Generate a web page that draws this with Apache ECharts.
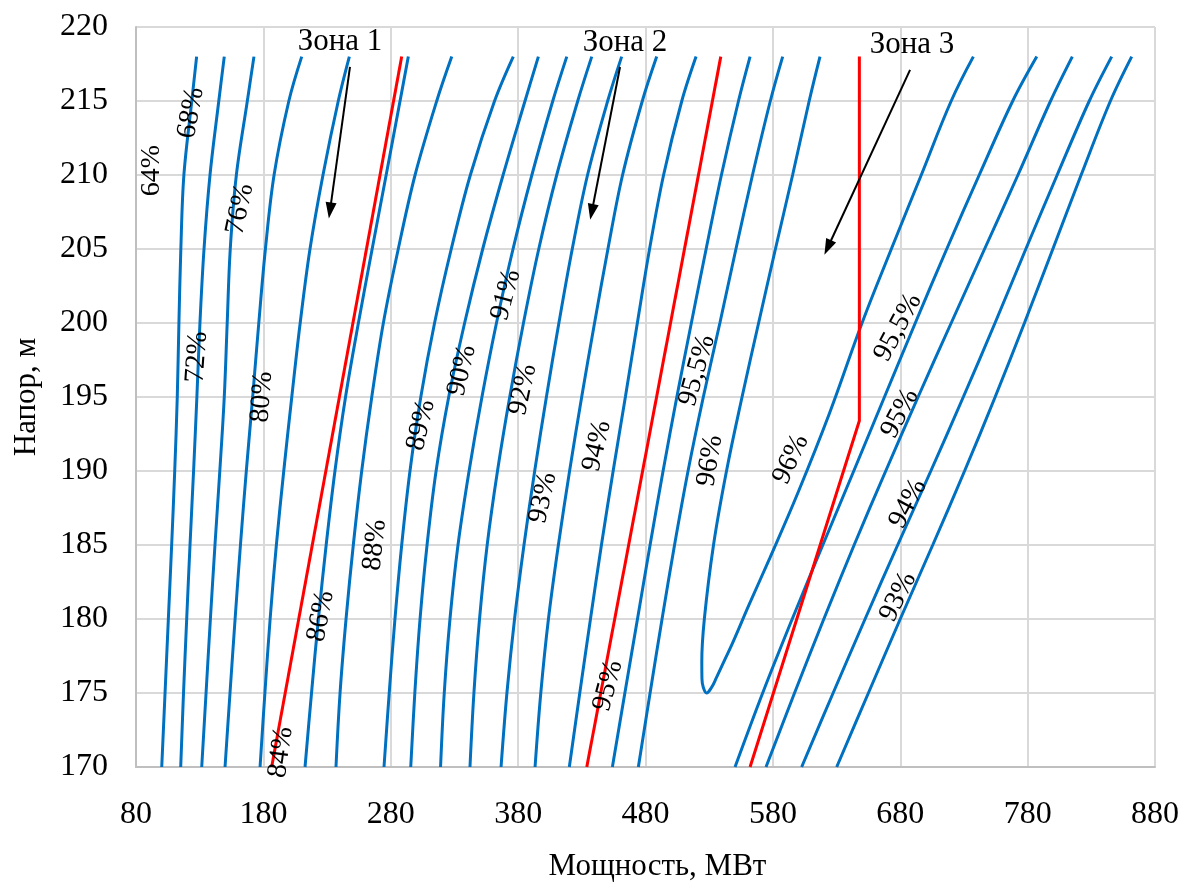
<!DOCTYPE html>
<html>
<head>
<meta charset="utf-8">
<script src="https://cdn.jsdelivr.net/npm/echarts@6/dist/echarts.min.js"></script>
<style>
  html, body { margin: 0; padding: 0; background: #ffffff; }
  #chart { width: 1181px; height: 884px; }
</style>
</head>
<body>
<div id="chart"></div>
<script>
// Heads (m) at which every efficiency isoline is sampled
const heads = [170, 175, 180, 185, 190, 195, 200, 205, 210, 215, 218];

// Power (MW) of each isoline at the heads above — left family
const iso64  = [100.2, 102.8, 105.4, 108.0, 110.4, 112.4, 113.7, 115.2, 117.6, 123.8, 127.6];
const iso68  = [115.1, 117.3, 119.8, 122.4, 125.2, 127.8, 130.2, 133.4, 138.1, 145.0, 149.3];
const iso72  = [131.6, 135.0, 138.4, 142.0, 145.8, 149.3, 151.6, 154.0, 158.8, 167.4, 172.6];
const iso76  = [149.9, 153.8, 157.8, 162.0, 166.6, 171.6, 176.4, 181.6, 188.4, 200.0, 210.1];
const iso80  = [177.4, 181.2, 185.3, 190.2, 196.0, 202.3, 208.9, 216.6, 226.8, 238.8, 247.5];
const iso84  = [212.7, 217.8, 223.2, 229.3, 236.2, 244.5, 254.6, 265.4, 276.4, 287.3, 293.8];
const iso86  = [237.0, 240.2, 244.9, 250.6, 257.2, 265.1, 274.2, 285.9, 299.1, 316.1, 327.9];
const iso88  = [274.7, 278.8, 283.3, 288.6, 295.1, 303.6, 314.4, 327.5, 342.5, 361.5, 376.2];
const iso89  = [295.7, 298.9, 303.0, 308.5, 315.6, 325.5, 338.0, 352.2, 368.2, 385.4, 395.9];
const iso90  = [319.1, 322.0, 326.5, 332.8, 341.5, 351.6, 363.0, 376.0, 390.8, 407.2, 418.2];
const iso91  = [342.2, 345.3, 349.7, 355.7, 363.8, 373.4, 384.2, 396.2, 410.3, 426.8, 437.8];
const iso92  = [366.6, 371.2, 377.2, 384.6, 393.0, 402.2, 412.0, 422.5, 434.5, 450.3, 461.3];
const iso93  = [393.3, 397.8, 403.8, 411.6, 420.4, 429.9, 440.0, 450.5, 462.0, 477.5, 488.8];
const iso94  = [420.2, 428.4, 436.8, 445.4, 454.6, 464.2, 473.6, 483.2, 494.2, 508.5, 519.7];
const iso95  = [454.0, 463.8, 473.7, 483.6, 493.8, 504.6, 516.0, 527.6, 539.6, 553.0, 562.1];
const iso955 = [474.4, 483.6, 493.0, 502.8, 513.4, 525.4, 538.4, 551.0, 564.0, 578.0, 587.7];

// Right family (overload side)
const iso955r = [550.3, 572.0, 595.2, 619.2, 643.5, 667.6, 691.8, 716.5, 742.0, 768.3, 787.2];
const iso95r  = [574.6, 597.0, 620.0, 643.8, 668.6, 694.0, 720.0, 746.2, 772.4, 798.0, 815.1];
const iso94r  = [602.6, 627.3, 652.4, 678.0, 704.0, 729.5, 754.4, 778.6, 803.2, 828.4, 846.0];
const iso93r  = [630.1, 655.0, 680.0, 705.5, 730.5, 754.5, 777.5, 799.8, 822.0, 845.0, 861.7];

// 96 % closed contour (down the left branch, round the bottom, up the right branch)
const loop96P = [617.0, 608.5, 595.5, 582.0, 568.8, 555.8, 543.6, 533.4, 526.2, 524.2, 524.3, 525.3, 528.0,
                 532.0, 535.5, 542.0, 548.5, 561.5, 577.5, 600.0, 624.0, 650.0, 673.0, 696.5, 720.0, 737.4];
const loop96H = [218, 215, 210, 205, 200, 195, 190, 185, 180, 177.1, 176.0, 175.4, 175.0,
                 175.4, 176.0, 177.2, 178.4, 181.0, 184.1, 188.6, 193.8, 200, 205, 210, 215, 218];

// Zone boundaries (red)
const border1 = [[186.5, 170], [288.6, 218]];
const border2 = [[433.9, 170], [539.1, 218]];
const border3 = [[562.1, 170], [647.9, 193.4], [647.9, 218]];

// Efficiency captions: text, power, head, text angle
const effLabels = [
  ['64%', 92.6, 210.3, 90], ['68%', 123.2, 214.2, 80], ['72%', 127.9, 197.7, 86],
  ['76%', 161.7, 207.7, 78], ['80%', 178.9, 195.0, 86], ['84%', 193.8, 171.0, 82],
  ['86%', 225.2, 180.2, 79], ['88%', 267.6, 185.0, 84], ['89%', 303.8, 193.1, 77],
  ['90%', 335.9, 196.8, 77], ['91%', 370.5, 201.9, 75], ['92%', 383.8, 195.5, 78],
  ['93%', 399.5, 188.2, 78], ['94%', 441.9, 191.7, 77], ['95%', 450.6, 175.5, 75],
  ['95,5%', 520.5, 196.8, 74], ['96%', 530.7, 190.7, 81], ['96%', 594.2, 190.8, 65],
  ['95,5%', 678.3, 199.7, 62], ['95%', 679.8, 193.9, 62], ['94%', 686.1, 187.8, 62],
  ['93%', 678.3, 181.5, 64]
];

// Zone captions and their pointer arrows (from -> to)
const zoneLabels = [['Зона 1', 240.2, 219.0], ['Зона 2', 463.9, 218.9], ['Зона 3', 689.2, 218.8]];
const zoneArrows = [
  [248.0, 217.3, 232.3, 207.6],
  [460.0, 217.3, 437.8, 207.5],
  [687.7, 217.1, 623.1, 205.1]
];

// Axis ticks
const xTicks = [80, 180, 280, 380, 480, 580, 680, 780, 880];
const yTicks = [170, 175, 180, 185, 190, 195, 200, 205, 210, 215, 220];

const FONT = "'Liberation Serif', 'Times New Roman', serif";
const BLUE = '#0070c0';
const RED = '#ff0000';

function zip(xs, ys) { return xs.map((x, i) => [x, ys[i]]); }

const blueCurves = [iso64, iso68, iso72, iso76, iso80, iso84, iso86, iso88, iso89, iso90, iso91,
  iso92, iso93, iso94, iso95, iso955, iso955r, iso95r, iso94r, iso93r];

const series = [];
blueCurves.forEach(xs => {
  series.push({
    type: 'line', data: zip(xs, heads), smooth: 0.35, symbol: 'none', silent: true,
    lineStyle: { color: BLUE, width: 3 }, z: 2
  });
});
series.push({
  type: 'line', data: zip(loop96P, loop96H), smooth: 0.4, symbol: 'none', silent: true,
  lineStyle: { color: BLUE, width: 3 }, z: 2
});
[border1, border2, border3].forEach(b => {
  series.push({
    type: 'line', data: b, symbol: 'none', silent: true,
    lineStyle: { color: RED, width: 3 }, z: 3
  });
});

// Captions drawn as invisible scatter points carrying labels
const captionLabel = {
  show: true, position: 'inside', align: 'center', verticalAlign: 'middle',
  color: '#000', fontFamily: FONT, textBorderWidth: 0, opacity: 1
};
series.push({
  type: 'scatter', silent: true, symbolSize: 1, itemStyle: { color: 'transparent' }, z: 5,
  data: effLabels.map(l => ({
    value: [l[1], l[2]],
    label: { show: true, formatter: l[0], rotate: l[3] }
  })),
  label: Object.assign({}, captionLabel, { fontSize: 28 })
});
series.push({
  type: 'scatter', silent: true, symbolSize: 1, itemStyle: { color: 'transparent' }, z: 5,
  data: zoneLabels.map(l => ({ value: [l[1], l[2]], label: { show: true, formatter: l[0] } })),
  label: Object.assign({}, captionLabel, { fontSize: 31 })
});
series.push({
  type: 'line', data: [], silent: true, z: 6,
  markLine: {
    silent: true, animation: false,
    symbol: ['none', 'path://M5,0L10,15L0,15Z'], symbolSize: [11, 16],
    lineStyle: { color: '#000', width: 2, type: 'solid' },
    label: { show: false },
    data: zoneArrows.map(a => [{ coord: [a[0], a[1]] }, { coord: [a[2], a[3]] }])
  }
});

const chart = echarts.init(document.getElementById('chart'), null, { renderer: 'canvas' });
chart.setOption({
  animation: false,
  backgroundColor: '#ffffff',
  grid: { left: 136, right: 26, top: 27, bottom: 117, containLabel: false, outerBoundsMode: 'none' },
  xAxis: {
    type: 'value', min: 80, max: 880, interval: 100,
    name: 'Мощность, МВт', nameLocation: 'middle', nameGap: 84,
    nameTextStyle: { color: '#000', fontSize: 31, fontFamily: FONT, padding: [0, 0, 0, 24] },
    axisLine: { show: true, onZero: false, lineStyle: { color: '#bfbfbf', width: 2 } },
    axisTick: { show: false, customValues: xTicks },
    axisLabel: { customValues: xTicks, color: '#000', fontSize: 32, fontFamily: FONT, margin: 32 },
    splitLine: { show: true, lineStyle: { color: '#d9d9d9', width: 2 } }
  },
  yAxis: {
    type: 'value', min: 170, max: 220, interval: 5,
    name: 'Напор, м', nameLocation: 'middle', nameRotate: 90, nameGap: 94,
    nameTextStyle: { color: '#000', fontSize: 31, fontFamily: FONT },
    axisLine: { show: true, onZero: false, lineStyle: { color: '#bfbfbf', width: 2 } },
    axisTick: { show: false, customValues: yTicks },
    axisLabel: { customValues: yTicks, color: '#000', fontSize: 32, fontFamily: FONT, margin: 28 },
    splitLine: { show: true, lineStyle: { color: '#d9d9d9', width: 2 } }
  },
  series: series
});
</script>
</body>
</html>
